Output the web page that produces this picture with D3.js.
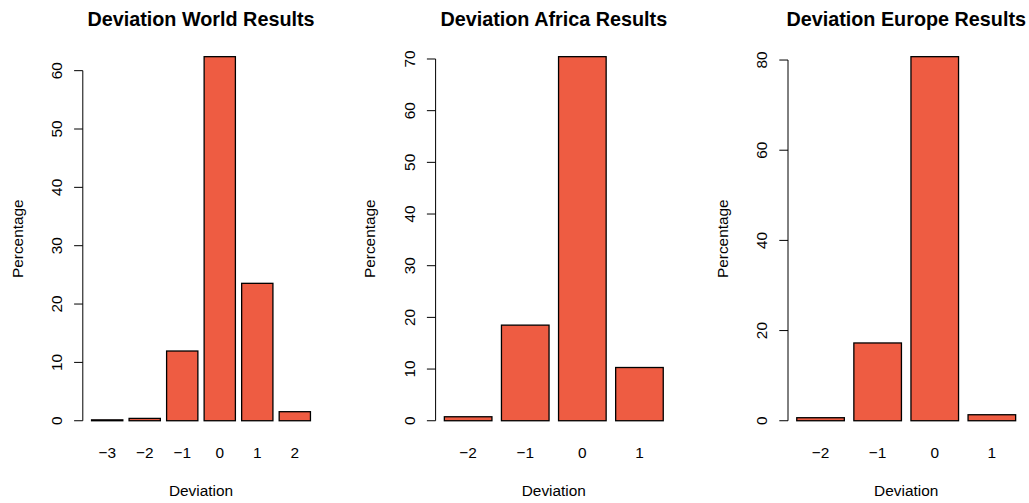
<!DOCTYPE html>
<html>
<head>
<meta charset="utf-8">
<script src="https://cdn.jsdelivr.net/npm/d3@7"></script>
<style>
  html, body { margin: 0; padding: 0; background: #ffffff; }
  svg { display: block; font-family: "Liberation Sans", Arial, Helvetica, sans-serif; }
</style>
</head>
<body>
<svg id="chart" width="1029" height="503"></svg>
<script>
// Deviation categories and percentage shares for each region
const worldCategories  = ["\u22123", "\u22122", "\u22121", "0", "1", "2"];
const worldValues      = [0.15, 0.4, 11.95, 62.4, 23.55, 1.55];
const worldTicks       = [0, 10, 20, 30, 40, 50, 60];

const africaCategories = ["\u22122", "\u22121", "0", "1"];
const africaValues     = [0.77, 18.5, 70.45, 10.3];
const africaTicks      = [0, 10, 20, 30, 40, 50, 60, 70];

const europeCategories = ["\u22122", "\u22121", "0", "1"];
const europeValues     = [0.67, 17.25, 80.75, 1.33];
const europeTicks      = [0, 20, 40, 60, 80];

const panelTitles = ["Deviation World Results", "Deviation Africa Results", "Deviation Europe Results"];

const panels = [
  { title: panelTitles[0], cats: worldCategories,  vals: worldValues,  ticks: worldTicks,  left: 82.8 },
  { title: panelTitles[1], cats: africaCategories, vals: africaValues, ticks: africaTicks, left: 435.6 },
  { title: panelTitles[2], cats: europeCategories, vals: europeValues, ticks: europeTicks, left: 788.0 }
];

const plotWidth = 236.4;
const plotTop = 42.1, plotBottom = 435.3;
const fill = "#EE5C42";
const fontSize = 15.4, titleSize = 19.8;
const tickLen = 8.7;

const svg = d3.select("#chart");

panels.forEach(p => {
  const n = p.cats.length;
  const maxV = d3.max(p.vals);
  // bars of unit width separated by 0.2, with 4% range padding on each side
  const outer = 0.04 * (n * 1.2 - 0.2) / 1.2;
  const x = d3.scaleBand()
    .domain(p.cats)
    .range([p.left, p.left + plotWidth])
    .paddingInner(0.2 / 1.2)
    .paddingOuter(outer);
  const y = d3.scaleLinear()
    .domain([-0.04 * maxV, 1.04 * maxV])
    .range([plotBottom, plotTop]);

  const g = svg.append("g");

  // bars
  g.selectAll("rect.bar")
    .data(p.vals)
    .join("rect")
    .attr("class", "bar")
    .attr("x", (d, i) => x(p.cats[i]))
    .attr("width", x.bandwidth())
    .attr("y", d => y(d))
    .attr("height", d => y(0) - y(d))
    .attr("fill", fill)
    .attr("stroke", "#000")
    .attr("stroke-width", 1.3);

  // y axis: line spans first to last tick
  const ax = p.left;
  const t0 = p.ticks[0], t1 = p.ticks[p.ticks.length - 1];
  g.append("line")
    .attr("x1", ax).attr("x2", ax)
    .attr("y1", y(t0)).attr("y2", y(t1))
    .attr("stroke", "#000").attr("stroke-width", 1);
  g.selectAll("line.tick")
    .data(p.ticks)
    .join("line")
    .attr("class", "tick")
    .attr("x1", ax - tickLen).attr("x2", ax)
    .attr("y1", d => y(d)).attr("y2", d => y(d))
    .attr("stroke", "#000").attr("stroke-width", 1);
  g.selectAll("text.ytick")
    .data(p.ticks)
    .join("text")
    .attr("class", "ytick")
    .attr("transform", d => `translate(${ax - 21},${y(d)}) rotate(-90)`)
    .attr("text-anchor", "middle")
    .attr("font-size", fontSize)
    .attr("fill", "#000")
    .text(d => d);

  // category labels under the bars
  g.selectAll("text.xtick")
    .data(p.cats)
    .join("text")
    .attr("class", "xtick")
    .attr("x", d => x(d) + x.bandwidth() / 2)
    .attr("y", 458.4)
    .attr("text-anchor", "middle")
    .attr("font-size", fontSize)
    .attr("fill", "#000")
    .text(d => d);

  const cx = p.left + plotWidth / 2;
  const cy = (plotTop + plotBottom) / 2;

  // axis titles
  g.append("text")
    .attr("x", cx).attr("y", 495.7)
    .attr("text-anchor", "middle")
    .attr("font-size", fontSize)
    .text("Deviation");
  g.append("text")
    .attr("transform", `translate(${ax - 60.3},${cy}) rotate(-90)`)
    .attr("text-anchor", "middle")
    .attr("font-size", fontSize)
    .text("Percentage");

  // panel title
  g.append("text")
    .attr("x", cx).attr("y", 26)
    .attr("text-anchor", "middle")
    .attr("font-size", titleSize)
    .attr("font-weight", "bold")
    .text(p.title);
});
</script>
</body>
</html>
